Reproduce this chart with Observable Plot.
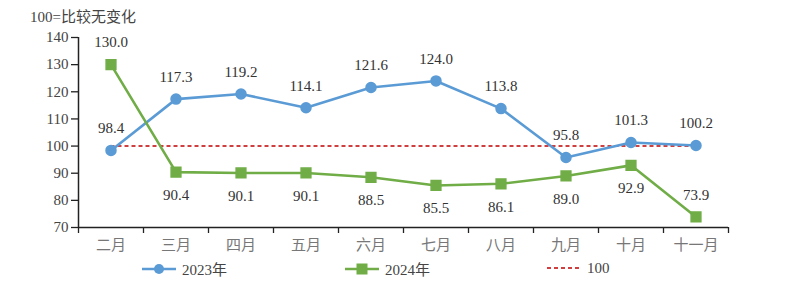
<!DOCTYPE html>
<html>
<head>
<meta charset="utf-8">
<script src="https://cdn.jsdelivr.net/npm/d3@7"></script>
<script src="https://cdn.jsdelivr.net/npm/@observablehq/plot@0.6"></script>
<style>
  html, body { margin: 0; padding: 0; background: #fff; }
  #wrap { position: relative; width: 800px; height: 283px; overflow: hidden; font-family: 'Liberation Serif', 'Times New Roman', 'DejaVu Serif', 'Noto Sans CJK SC', serif; }
  #title { position: absolute; left: 30px; top: 5px; font-size: 15px; color: #444; }
  #legend { position: absolute; top: 258px; left: 0; width: 800px; height: 20px; font-size: 15px; color: #444; }
  .item { position: absolute; display: flex; align-items: center; }
  .item svg { margin-right: 6px; }
</style>
</head>
<body>
<div id="wrap">
  <div id="chart"></div>
  <div id="title">100=比较无变化</div>
  <div id="legend"></div>
</div>
<script>
const months = ["二月","三月","四月","五月","六月","七月","八月","九月","十月","十一月"];
const values2023 = [98.4,117.3,119.2,114.1,121.6,124.0,113.8,95.8,101.3,100.2];
const values2024 = [130.0,90.4,90.1,90.1,88.5,85.5,86.1,89.0,92.9,73.9];
const labelPos2024 = ["above","below","below","below","below","below","below","below","below","above"];
const yTicks = [70,80,90,100,110,120,130,140];
const baseline = 100;
const seriesNames = ["2023年","2024年","100"];

const blue = "#5b9bd5", green = "#70ad47", red = "#c00000";
const font = "'Liberation Serif', 'Times New Roman', 'DejaVu Serif', 'Noto Sans CJK SC', serif";

const d23 = values2023.map((v,i)=>({i, v}));
const d24 = values2024.map((v,i)=>({i, v, pos: labelPos2024[i]}));

const chart = Plot.plot({
  width: 800, height: 283,
  marginLeft: 78, marginRight: 72, marginTop: 37, marginBottom: 56,
  style: {fontFamily: font, fontSize: "15px", color: "#444", background: "transparent"},
  x: {type: "linear", domain: [-0.5, months.length - 0.5]},
  y: {domain: [70, 140]},
  marks: [
    Plot.axisY({ticks: yTicks, tickSize: 7, tickPadding: 3, tickFormat: d => d, label: null, stroke: "#222", strokeWidth: 1.3, fill: "#444", fontSize: 15, fontFamily: font}),
    Plot.axisX({ticks: d3.range(months.length + 1).map(i => i - 0.5), tickFormat: () => "", tickSize: 6, label: null, stroke: "#222", strokeWidth: 1.3}),
    Plot.axisX({ticks: d3.range(months.length), tickFormat: i => months[i], tickSize: 0, tickPadding: 12, label: null, fill: "#777", fontSize: 15, fontFamily: font}),
    Plot.ruleX([-0.5], {stroke: "#222", strokeWidth: 1.5}),
    Plot.ruleY([70], {stroke: "#222", strokeWidth: 1.5}),
    Plot.ruleY([baseline], {x1: 0, x2: months.length - 1, stroke: red, strokeWidth: 1.6, strokeDasharray: "4,3"}),
    Plot.line(d23, {x: "i", y: "v", stroke: blue, strokeWidth: 2.6}),
    Plot.line(d24, {x: "i", y: "v", stroke: green, strokeWidth: 2.6}),
    Plot.dot(d23, {x: "i", y: "v", r: 5, fill: blue, stroke: blue}),
    Plot.dot(d24, {x: "i", y: "v", r: 5.5, symbol: "square", fill: green, stroke: green}),
    Plot.text(d23, {x: "i", y: "v", text: d => d.v.toFixed(1), dy: -22, fill: "#333", fontSize: 15, fontFamily: font}),
    Plot.text(d24, {x: "i", y: "v", text: d => d.v.toFixed(1), fill: "#333", fontSize: 15, fontFamily: font, filter: d => d.pos === "above", dy: -22}),
    Plot.text(d24, {x: "i", y: "v", text: d => d.v.toFixed(1), fill: "#333", fontSize: 15, fontFamily: font, filter: d => d.pos === "below", dy: 23})
  ]
});
document.getElementById("chart").appendChild(chart);

// Legend
const legend = document.getElementById("legend");
const legendItems = [
  {name: seriesNames[0], left: 142, type: "circle", color: blue},
  {name: seriesNames[1], left: 345, type: "square", color: green},
  {name: seriesNames[2], left: 547, type: "dash", color: red}
];
for (const it of legendItems) {
  const div = document.createElement("div");
  div.className = "item";
  div.style.left = it.left + "px";
  let sym = "";
  if (it.type === "circle") sym = `<line x1="0" y1="10" x2="34" y2="10" stroke="${it.color}" stroke-width="2.6"/><circle cx="17" cy="10" r="5" fill="${it.color}"/>`;
  if (it.type === "square") sym = `<line x1="0" y1="10" x2="34" y2="10" stroke="${it.color}" stroke-width="2.6"/><rect x="11.5" y="4.5" width="11" height="11" fill="${it.color}"/>`;
  if (it.type === "dash") sym = `<line x1="0" y1="10" x2="34" y2="10" stroke="${it.color}" stroke-width="1.6" stroke-dasharray="4,3"/>`;
  div.innerHTML = `<svg width="34" height="20">${sym}</svg><span>${it.name}</span>`;
  legend.appendChild(div);
}
</script>
</body>
</html>
